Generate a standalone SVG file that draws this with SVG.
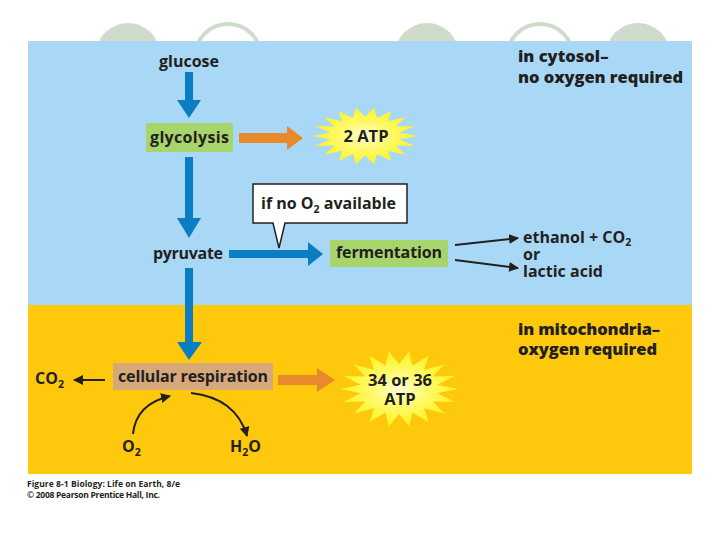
<svg xmlns="http://www.w3.org/2000/svg" width="720" height="540" viewBox="0 0 720 540">
<defs>
<style>
.t{font-family:"Open Sans","Liberation Sans",sans-serif;font-weight:700;fill:#231f20;}
.m{font-size:16px;}
.h{font-size:16.5px;font-family:"Open Sans","Liberation Sans",sans-serif;font-weight:800;fill:#231f20;}
.cap{font-size:8.5px;}
.blue{fill:#0c7dc2;}
.orange{fill:#e88a2b;}
.green{fill:#a8d46c;}
.tan{fill:#d6a87a;}
.blk{stroke:#231f20;stroke-width:2;fill:none;}
</style>
<radialGradient id="glow" cx="0.5" cy="0.5" r="0.5">
<stop offset="0" stop-color="#ffffd8"/>
<stop offset="0.45" stop-color="#fffa70"/>
<stop offset="1" stop-color="#fff21e"/>
</radialGradient>
<polygon id="star" points="1,0 .65,.115 .94,.342 .572,.33 .766,.643 .425,.506 .5,.866 .226,.621 .174,.985 0,.66 -.174,.985 -.226,.621 -.5,.866 -.425,.506 -.766,.643 -.572,.33 -.94,.342 -.65,.115 -1,0 -.65,-.115 -.94,-.342 -.572,-.33 -.766,-.643 -.425,-.506 -.5,-.866 -.226,-.621 -.174,-.985 0,-.66 .174,-.985 .226,-.621 .5,-.866 .425,-.506 .766,-.643 .572,-.33 .94,-.342 .65,-.115"/>
<marker id="ah" viewBox="0 0 10 10" refX="9" refY="5" markerWidth="5" markerHeight="5" orient="auto">
<path d="M0,0 L10,5 L0,10 Z" fill="#231f20"/>
</marker>
</defs>
<rect width="720" height="540" fill="#ffffff"/>
<g id="decor">
<circle cx="128" cy="55" r="32" fill="#cfdccb"/>
<circle cx="228" cy="57" r="33" fill="none" stroke="#cfdccb" stroke-width="4"/>
<circle cx="427" cy="55" r="32" fill="#cfdccb"/>
<circle cx="540" cy="57" r="33" fill="none" stroke="#cfdccb" stroke-width="4"/>
<circle cx="638" cy="55" r="32" fill="#cfdccb"/>
</g>
<g id="panels">
<rect x="28" y="41" width="664" height="264" fill="#a9d8f6"/>
<rect x="28" y="305" width="664" height="169" fill="#fec80d"/>
</g>
<g id="regions">
<text class="h" x="518" y="62">in cytosol–</text>
<text class="h" x="518" y="83" textLength="165">no oxygen required</text>
<text class="h" x="518" y="335" textLength="142">in mitochondria–</text>
<text class="h" x="518" y="355" textLength="139">oxygen required</text>
</g>
<g id="connectors">
<polygon class="blue" points="185,72 193,72 193,100 201,100 189,118 177,100 185,100"/>
<polygon class="blue" points="185,157 193,157 193,218 201,218 189,238 177,218 185,218"/>
<polygon class="blue" points="185,268 193,268 193,342 202,342 189,360 177,342 185,342"/>
<polygon class="blue" points="229,250 308,250 308,242 323,254 308,266 308,258 229,258"/>
<polygon class="orange" points="239,133 287,133 287,126 303,138 287,150 287,143 239,143"/>
<polygon class="orange" points="278,375 317,375 317,368 335,380 317,392 317,385 278,385"/>
<line class="blk" x1="455" y1="245" x2="518" y2="238" marker-end="url(#ah)"/>
<line class="blk" x1="455" y1="260" x2="518" y2="268" marker-end="url(#ah)"/>
<line class="blk" x1="105" y1="380" x2="74" y2="380" marker-end="url(#ah)"/>
<path class="blk" d="M133,434 Q136,404 170,396" marker-end="url(#ah)"/>
<path class="blk" d="M191,393 Q236,398 247,436" marker-end="url(#ah)"/>
</g>
<g id="glucose"><text class="t m" x="189" y="67" text-anchor="middle">glucose</text></g>
<g id="glycolysis">
<rect class="green" x="146" y="123" width="87" height="29"/>
<text class="t m" x="189.5" y="143" text-anchor="middle" textLength="79">glycolysis</text>
</g>
<g id="atp2">
<use href="#star" transform="translate(365,136) scale(53,29)" fill="url(#glow)"/>
<text class="t" font-size="16.5" x="366" y="142" text-anchor="middle">2 ATP</text>
</g>
<g id="pyruvate"><text class="t m" x="188" y="259" text-anchor="middle" textLength="70">pyruvate</text></g>
<g id="callout">
<path d="M253,184 H407 V223 H285 L279,248 L273,223 H253 Z" fill="#ffffff" stroke="#231f20" stroke-width="1.5"/>
<text class="t m" x="261" y="209">if no O<tspan font-size="10.5" dy="4">2</tspan><tspan dy="-4"> available</tspan></text>
</g>
<g id="fermentation">
<rect class="green" x="330" y="240" width="118" height="27"/>
<text class="t m" x="389" y="258" text-anchor="middle" textLength="106">fermentation</text>
</g>
<g id="products">
<text class="t m" x="523" y="243">ethanol + CO<tspan font-size="10.5" dy="3">2</tspan></text>
<text class="t m" x="523" y="260">or</text>
<text class="t m" x="523" y="277">lactic acid</text>
</g>
<g id="respiration">
<rect class="tan" x="113" y="363" width="160" height="27"/>
<text class="t m" x="193" y="382" text-anchor="middle" textLength="150">cellular respiration</text>
</g>
<g id="co2"><text class="t m" x="35" y="384">CO<tspan font-size="10.5" dy="4">2</tspan></text></g>
<g id="atp36">
<use href="#star" transform="translate(399,389) scale(59,38)" fill="url(#glow)"/>
<text class="t" font-size="16.5" x="400" y="386" text-anchor="middle">34 or 36</text>
<text class="t" font-size="16.5" x="400" y="405" text-anchor="middle">ATP</text>
</g>
<g id="o2"><text class="t m" x="122" y="452">O<tspan font-size="10.5" dy="4">2</tspan></text></g>
<g id="h2o"><text class="t m" x="230" y="452">H<tspan font-size="10.5" dy="4">2</tspan><tspan dy="-4">O</tspan></text></g>
<g id="caption">
<text class="t cap" x="27" y="487" textLength="153">Figure 8-1  Biology: Life on Earth, 8/e</text>
<text class="t cap" x="27" y="498" textLength="133">© 2008 Pearson Prentice Hall, Inc.</text>
</g>
</svg>
